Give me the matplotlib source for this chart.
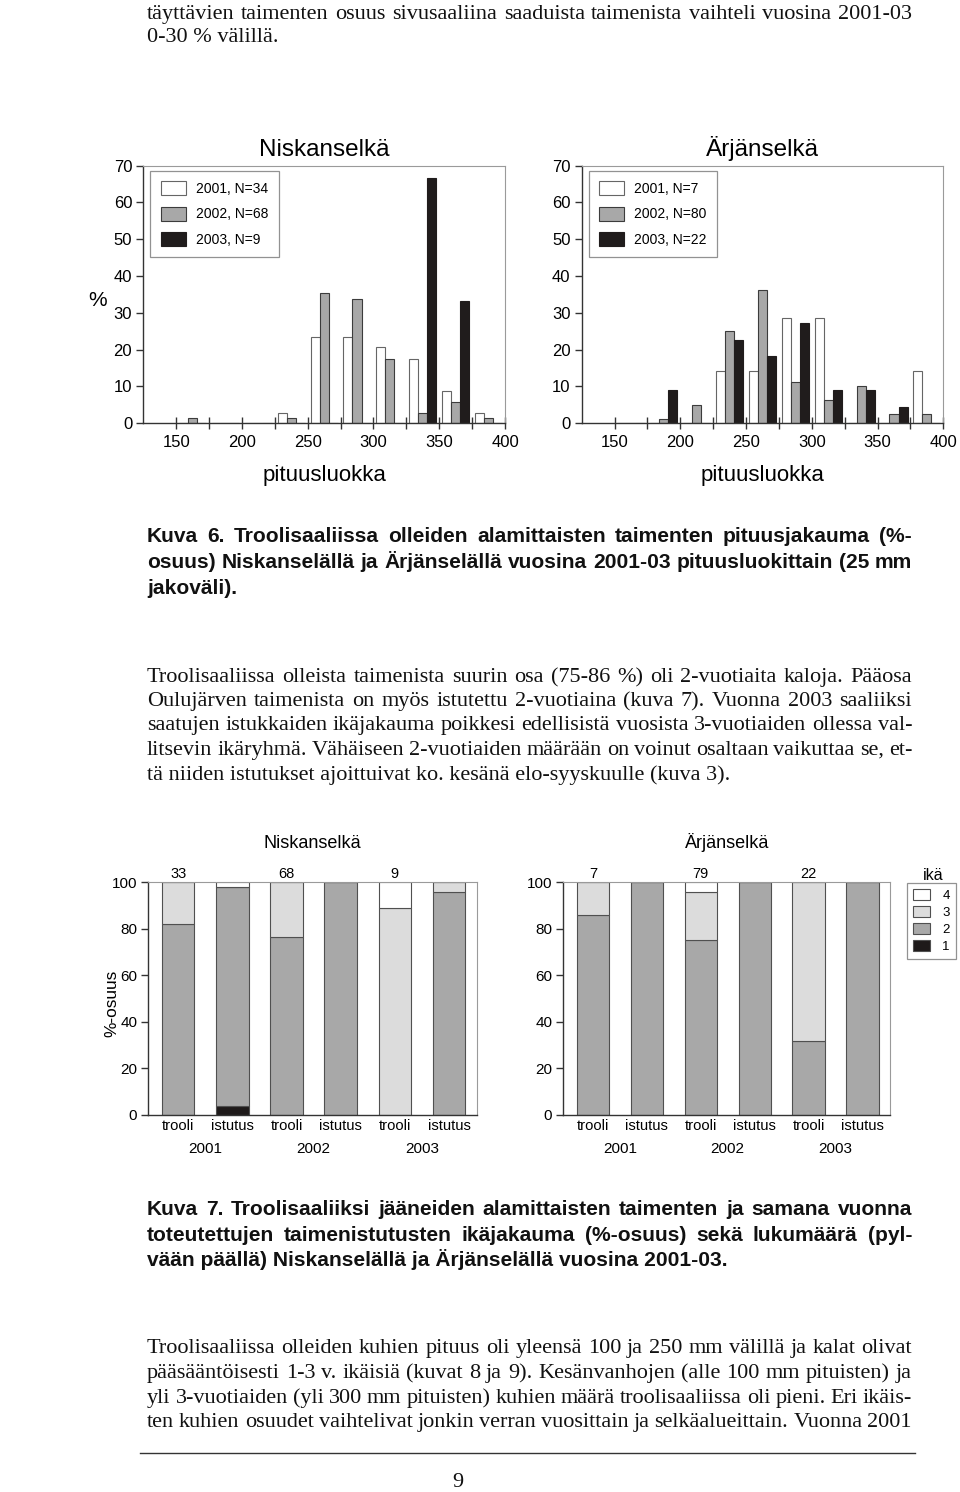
import numpy as np
import matplotlib
matplotlib.use("Agg")
import matplotlib.pyplot as plt
from matplotlib import font_manager
from matplotlib.font_manager import FontProperties
from matplotlib.patches import Patch
from matplotlib.lines import Line2D

plt.rcParams["font.family"] = ["Liberation Sans", "DejaVu Sans"]

W, H = 960, 1492

# Kuva 6: pituusjakauma (%), 25 mm luokat
BIN_START = [150, 175, 200, 225, 250, 275, 300, 325, 350, 375]
NISK_2001 = [0, 0, 0, 2.9, 23.5, 23.5, 20.6, 17.6, 8.8, 2.9]
NISK_2002 = [1.5, 0, 0, 1.5, 35.3, 33.8, 17.6, 2.9, 5.9, 1.5]
NISK_2003 = [0, 0, 0, 0, 0, 0, 0, 66.7, 33.3, 0]
ARJ_2001 = [0, 0, 0, 14.3, 14.3, 28.6, 28.6, 0, 0, 14.3]
ARJ_2002 = [0, 1.25, 5.0, 25.0, 36.25, 11.25, 6.25, 10.0, 2.5, 2.5]
ARJ_2003 = [0, 9.1, 0, 22.7, 18.2, 27.3, 9.1, 9.1, 4.5, 0]
NISK_LABELS = ["2001, N=34", "2002, N=68", "2003, N=9"]
ARJ_LABELS = ["2001, N=7", "2002, N=80", "2003, N=22"]

# Kuva 7: ikajakauma (%-osuus), pylvaat trooli/istutus 2001-2003
BAR_LABELS = ["trooli", "istutus"] * 3
YEARS = ["2001", "2002", "2003"]
NISK_AGE1 = [0, 4, 0, 0, 0, 0]
NISK_AGE2 = [82, 94, 76.5, 100, 0, 96]
NISK_AGE3 = [18, 0, 23.5, 0, 89, 4]
NISK_AGE4 = [0, 2, 0, 0, 11, 0]
NISK_N = [33, 68, 9]
ARJ_AGE1 = [0, 0, 0, 0, 0, 0]
ARJ_AGE2 = [86, 100, 75, 100, 32, 100]
ARJ_AGE3 = [14, 0, 21, 0, 68, 0]
ARJ_AGE4 = [0, 0, 4, 0, 0, 0]
ARJ_N = [7, 79, 22]

C_GRAY = "#a8a8a8"
C_LIGHT = "#dcdcdc"
C_BLACK = "#201c1c"
C_EDGE = "#505050"
C_FRAME = "#9a9a9a"
C_TEXT = "#111111"

TOP_TEXT = [
    ("täyttävien taimenten osuus sivusaaliina saaduista taimenista vaihteli vuosina 2001-03", True),
    ("0-30 % välillä.", False),
]
CAPTION6 = [
    ("Kuva 6. Troolisaaliissa olleiden alamittaisten taimenten pituusjakauma (%-", True),
    ("osuus) Niskanselällä ja Ärjänselällä vuosina 2001-03 pituusluokittain (25 mm", True),
    ("jakoväli).", False),
]
PARA1 = [
    ("Troolisaaliissa olleista taimenista suurin osa (75-86 %) oli 2-vuotiaita kaloja. Pääosa", True),
    ("Oulujärven taimenista on myös istutettu 2-vuotiaina (kuva 7). Vuonna 2003 saaliiksi", True),
    ("saatujen istukkaiden ikäjakauma poikkesi edellisistä vuosista 3-vuotiaiden ollessa val-", True),
    ("litsevin ikäryhmä. Vähäiseen 2-vuotiaiden määrään on voinut osaltaan vaikuttaa se, et-", True),
    ("tä niiden istutukset ajoittuivat ko. kesänä elo-syyskuulle (kuva 3).", False),
]
CAPTION7 = [
    ("Kuva 7. Troolisaaliiksi jääneiden alamittaisten taimenten ja samana vuonna", True),
    ("toteutettujen taimenistutusten ikäjakauma (%-osuus) sekä lukumäärä (pyl-", True),
    ("vään päällä) Niskanselällä ja Ärjänselällä vuosina 2001-03.", False),
]
PARA2 = [
    ("Troolisaaliissa olleiden kuhien pituus oli yleensä 100 ja 250 mm välillä ja kalat olivat", True),
    ("pääsääntöisesti 1-3 v. ikäisiä (kuvat 8 ja 9). Kesänvanhojen (alle 100 mm pituisten) ja", True),
    ("yli 3-vuotiaiden (yli 300 mm pituisten) kuhien määrä troolisaaliissa oli pieni. Eri ikäis-", True),
    ("ten kuhien osuudet vaihtelivat jonkin verran vuosittain ja selkäalueittain. Vuonna 2001", True),
]


def rect(x0, y0, x1, y1):
    return [x0 / W, 1 - y1 / H, (x1 - x0) / W, (y1 - y0) / H]


fig = plt.figure(figsize=(W / 100, H / 100), dpi=100, facecolor="white")
renderer = fig.canvas.get_renderer()

SERIF = FontProperties(family="Liberation Serif", size=16)
try:
    font_manager.findfont(FontProperties(family="Liberation Sans Narrow"),
                          fallback_to_default=False)
    CAPT = FontProperties(family="Liberation Sans Narrow", weight="bold", size=17)
except ValueError:
    CAPT = FontProperties(family="Liberation Sans", weight="bold", size=15.1)


def put_lines(lines, baselines, fp, x0=147, x1=912):
    for (text, justify), y in zip(lines, baselines):
        if not justify:
            fig.text(x0 / W, 1 - y / H, text, fontproperties=fp, ha="left",
                     va="baseline", color=C_TEXT)
            continue
        words = text.split()
        widths = []
        for w in words:
            t = fig.text(0, 0, w, fontproperties=fp)
            widths.append(t.get_window_extent(renderer).width)
            t.remove()
        gap = (x1 - x0 - sum(widths)) / (len(words) - 1)
        x = x0
        for w, wd in zip(words, widths):
            fig.text(x / W, 1 - y / H, w, fontproperties=fp, ha="left",
                     va="baseline", color=C_TEXT)
            x += wd + gap


def style_frame(ax):
    for s in ("top", "right"):
        ax.spines[s].set_color(C_FRAME)
        ax.spines[s].set_linewidth(0.8)
    for s in ("left", "bottom"):
        ax.spines[s].set_color("#333333")
        ax.spines[s].set_linewidth(1.0)


def hist_panel(ax, title, v1, v2, v3, labels):
    centers = np.array(BIN_START) + 12.5
    w = 6.9
    b1 = ax.bar(centers - w, v1, w, color="white", edgecolor="#666666", lw=0.8)
    b2 = ax.bar(centers, v2, w, color=C_GRAY, edgecolor="#3c3c3c", lw=0.8)
    b3 = ax.bar(centers + w, v3, w, color=C_BLACK, edgecolor=C_BLACK, lw=0.8)
    ax.set_xlim(125, 400)
    ax.set_ylim(0, 70)
    ax.set_xticks(range(150, 401, 50))
    ax.set_xticks(range(175, 400, 50), minor=True)
    ax.set_yticks(range(0, 71, 10))
    ax.tick_params(axis="x", which="both", direction="inout", length=9,
                   width=1, color="#333333", labelsize=12, pad=4)
    ax.tick_params(axis="y", direction="out", length=5, width=1,
                   color="#333333", labelsize=12, pad=3)
    style_frame(ax)
    ax.set_title(title, fontsize=17.5, pad=7)
    ax.set_xlabel("pituusluokka", fontsize=16, labelpad=11)
    leg = ax.legend([b1, b2, b3], labels, loc="upper left",
                    bbox_to_anchor=(0.019, 0.981), fontsize=10,
                    frameon=True, fancybox=False, edgecolor="#777777",
                    handlelength=1.8, handleheight=1.15, labelspacing=0.8,
                    handletextpad=0.75, borderpad=0.75, borderaxespad=0)
    leg.get_frame().set_linewidth(0.9)


def age_panel(ax, title, ages, counts):
    x = np.arange(6)
    bottom = np.zeros(6)
    for vals, col in zip(ages, ["#1e1a1a", C_GRAY, C_LIGHT, "white"]):
        ax.bar(x, vals, 0.6, bottom=bottom, color=col, edgecolor=C_EDGE, lw=0.8)
        bottom += np.array(vals)
    ax.set_xlim(-0.55, 5.51)
    ax.set_ylim(0, 100)
    ax.set_xticks(x)
    ax.set_xticklabels(BAR_LABELS, fontsize=10.6)
    ax.set_yticks(range(0, 101, 20))
    ax.tick_params(axis="x", length=0, pad=3)
    ax.tick_params(axis="y", direction="out", length=5, width=1,
                   color="#333333", labelsize=11, pad=3)
    style_frame(ax)
    for i, yr in enumerate(YEARS):
        ax.text(2 * i + 0.5, -0.146, yr, transform=ax.get_xaxis_transform(),
                ha="center", va="center", fontsize=11)
    for i, n in enumerate(counts):
        ax.text(2 * i, 100.6, str(n), ha="center", va="bottom", fontsize=10.5)
    ax.set_title(title, fontsize=13, pad=25)


# ---- text blocks ----
put_lines(TOP_TEXT, [19, 42], SERIF)
put_lines(CAPTION6, [542, 568, 594], CAPT)
put_lines(PARA1, [682, 706, 730, 755, 780], SERIF)
put_lines(CAPTION7, [1215, 1241, 1266], CAPT)
put_lines(PARA2, [1353, 1378, 1403, 1427], SERIF)
fig.text(458 / W, 1 - 1487 / H, "9", fontproperties=SERIF, ha="center",
         va="baseline", color=C_TEXT)
fig.add_artist(Line2D([140 / W, 915 / W], [1 - 1453 / H] * 2,
                      color="#333333", lw=1))

# ---- Kuva 6 ----
ax1 = fig.add_axes(rect(143.3, 165.7, 505, 423.3))
hist_panel(ax1, "Niskanselkä", NISK_2001, NISK_2002, NISK_2003, NISK_LABELS)
ax2 = fig.add_axes(rect(581.7, 165.7, 943.3, 423.3))
hist_panel(ax2, "Ärjänselkä", ARJ_2001, ARJ_2002, ARJ_2003, ARJ_LABELS)
fig.text(98 / W, 1 - 300 / H, "%", fontsize=15, ha="center", va="center")

# ---- Kuva 7 ----
ax3 = fig.add_axes(rect(148.3, 882.3, 476.7, 1115))
age_panel(ax3, "Niskanselkä", [NISK_AGE1, NISK_AGE2, NISK_AGE3, NISK_AGE4], NISK_N)
ax4 = fig.add_axes(rect(563.3, 882.3, 890, 1115))
age_panel(ax4, "Ärjänselkä", [ARJ_AGE1, ARJ_AGE2, ARJ_AGE3, ARJ_AGE4], ARJ_N)
fig.text(111.7 / W, 1 - 1003 / H, "%-osuus", fontsize=12.4, rotation=90,
         ha="center", va="center")

handles = [Patch(facecolor=c, edgecolor=C_EDGE, lw=0.8)
           for c in ["white", C_LIGHT, C_GRAY, "#1e1a1a"]]
leg = ax4.legend(handles, ["4", "3", "2", "1"], loc="upper left",
                 bbox_to_anchor=(1.053, 0.996), fontsize=9.5, frameon=True,
                 fancybox=False, edgecolor="#777777", handlelength=1.3,
                 handleheight=0.9, labelspacing=0.3, handletextpad=0.9,
                 borderpad=0.45, borderaxespad=0)
leg.get_frame().set_linewidth(0.9)
fig.text(933 / W, 1 - 876 / H, "ikä", fontsize=11.5, ha="center", va="center")

fig.savefig("out.png", dpi=100, facecolor="white")
